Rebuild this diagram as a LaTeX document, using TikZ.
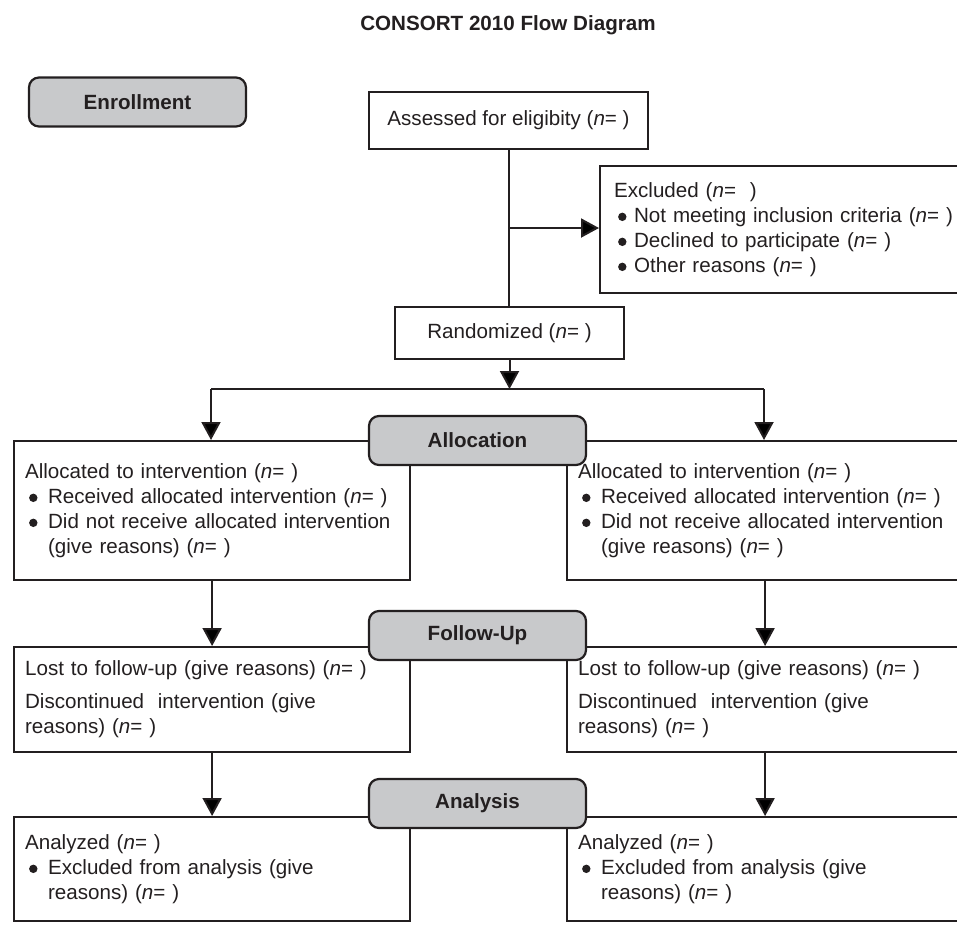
\documentclass[tikz,border=0pt]{standalone}
\usepackage{fontspec}
\setmainfont{Liberation Sans}
\usetikzlibrary{arrows.meta}
\definecolor{ink}{RGB}{35,31,32}
\definecolor{stagegray}{RGB}{200,201,203}
\newcommand{\nn}{(\textit{n}= )}
\newcommand{\bigdot}{\tikz[x=1pt,y=1pt,baseline=0pt]\fill[ink] (0,5.6) circle (4.2);}
\newcommand{\bul}{\hspace*{4pt}\makebox[19pt][l]{\bigdot}}
\newcommand{\sbul}{\hspace*{4pt}\makebox[16pt][l]{\bigdot}}
\newcommand{\hang}{\hspace*{23pt}}

\begin{document}
\begin{tikzpicture}[x=1pt,y=-1pt,
    every node/.style={font=\fontsize{20.6}{25}\selectfont,text=ink},
    box/.style={draw=ink,line width=2.2pt,anchor=north west,inner xsep=11pt,inner ysep=0pt,align=left},
    plain/.style={draw=ink,line width=2.2pt,inner sep=0pt},
    stage/.style={draw=ink,fill=stagegray,line width=2.2pt,rounded corners=10pt,
        minimum width=217pt,minimum height=49pt,font=\fontsize{20.6}{25}\selectfont\bfseries},
    link/.style={draw=ink,line width=2pt},
    arr/.style={link,-{Triangle[length=18pt,width=19pt]}}]
\useasboundingbox (0,0) rectangle (957,935);

\node[font=\fontsize{20.6}{25}\selectfont\bfseries] (title) at (508,25) {CONSORT 2010 Flow Diagram};

\node[plain,minimum width=279pt,minimum height=57pt] (assess) at (508.5,120.5) {Assessed for eligibity \nn};
\node[box,inner xsep=14pt,text width=372pt,minimum height=127pt] (excl) at (599,165)
    {Excluded (\textit{n}=\ \ )\\ \sbul Not meeting inclusion criteria \nn\\ \sbul Declined to participate \nn\\ \sbul Other reasons \nn};
\node[plain,minimum width=229pt,minimum height=52pt] (rand) at (509.5,333) {Randomized \nn};

\node[box,text width=374pt,minimum height=139pt] (allocL) at (13,440)
    {Allocated to intervention \nn\\ \bul Received allocated intervention \nn\\ \bul Did not receive allocated intervention\\ \hang (give reasons) \nn};
\node[box,text width=374pt,minimum height=139pt] (allocR) at (566,440)
    {Allocated to intervention \nn\\ \bul Received allocated intervention \nn\\ \bul Did not receive allocated intervention\\ \hang (give reasons) \nn};

\node[box,text width=374pt,minimum height=105pt] (fuL) at (13,646)
    {Lost to follow-up (give reasons) \nn\\[8pt] Discontinued\ \ intervention (give\\ reasons) \nn};
\node[box,text width=374pt,minimum height=105pt] (fuR) at (566,646)
    {Lost to follow-up (give reasons) \nn\\[8pt] Discontinued\ \ intervention (give\\ reasons) \nn};

\node[box,text width=374pt,minimum height=104pt] (anaL) at (13,816)
    {Analyzed \nn\\ \bul Excluded from analysis (give\\ \hang reasons) \nn};
\node[box,text width=374pt,minimum height=104pt] (anaR) at (566,816)
    {Analyzed \nn\\ \bul Excluded from analysis (give\\ \hang reasons) \nn};

\coordinate (split) at (509,228);
\coordinate (forkL) at (211,389);
\coordinate (forkR) at (764,389);

\draw[link] (assess.south) -- (assess.south |- rand.north);
\draw[arr] (split) -- (split -| excl.west);
\draw[arr] (rand.south) -- (rand.south |- forkL);
\draw[link] (forkL) -- (forkR);
\draw[arr] (forkL) -- (forkL |- allocL.north);
\draw[arr] (forkR) -- (forkR |- allocR.north);
\draw[arr] (allocL) -- (fuL);
\draw[arr] (allocR) -- (fuR);
\draw[arr] (fuL) -- (anaL);
\draw[arr] (fuR) -- (anaR);

\node[stage] (enrol) at (137.5,102) {Enrollment};
\node[stage] (alloc) at (477.5,440.5) {Allocation};
\node[stage] (follow) at (477.5,635.5) {Follow-Up};
\node[stage] (analysis) at (477.5,803.5) {Analysis};
\end{tikzpicture}
\end{document}
